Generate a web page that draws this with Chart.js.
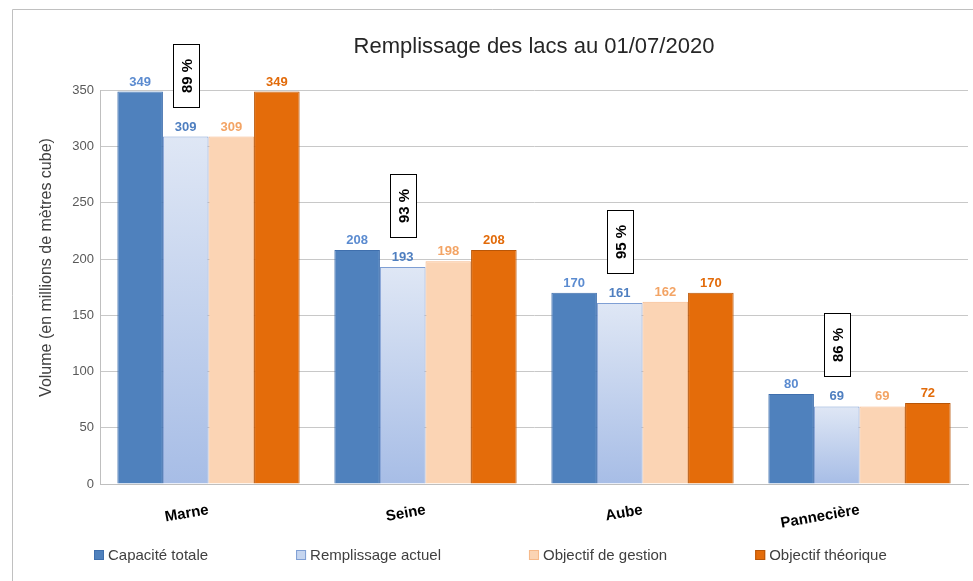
<!DOCTYPE html>
<html>
<head>
<meta charset="utf-8">
<script src="https://cdn.jsdelivr.net/npm/chart.js@4.4.0/dist/chart.umd.min.js"></script>
<style>
  html, body { margin: 0; padding: 0; background: #fff; }
  #wrap { width: 973px; height: 581px; }
</style>
</head>
<body>
<div id="wrap"><canvas id="myChart" width="973" height="581"></canvas></div>
<script>
// donnees (millions de m3)
const lakes = ['Marne', 'Seine', 'Aube', 'Pannecière'];
const capaciteTotale = [349, 208, 170, 80];
const remplissageActuel = [309, 193, 161, 69];
const objectifGestion = [309, 198, 162, 69];
const objectifTheorique = [349, 208, 170, 72];
const tauxRemplissage = ['89 %', '93 %', '95 %', '86 %'];
const yMax = 350;
const yStep = 50;
const yTitle = 'Volume (en millions de mètres cube)';

const fontFamily = "'Liberation Sans', Arial, sans-serif";
const labelColors = ['#5b8bd0', '#4f7fc0', '#f3a465', '#e26b0a'];

var ctx = document.getElementById('myChart');

// gradient vertical pour chaque barre "Remplissage actuel"
function remplissageFill(context) {
    let chart = context.chart;
    if (!chart.chartArea || context.type !== 'data') return '#c5d5ef';
    let y = chart.scales.y;
    let top = y.getPixelForValue(context.raw);
    let bottom = y.getPixelForValue(0);
    let g = chart.ctx.createLinearGradient(0, top, 0, bottom);
    g.addColorStop(0, '#dfe7f5');
    g.addColorStop(1, '#a7bde6');
    return g;
}

// cadre gris autour du graphique (capture Excel) + titre de l'axe Y
const framePlugin = {
    id: 'frame',
    beforeDraw(chart) {
        let c = chart.ctx;
        c.save();
        c.fillStyle = '#fff';
        c.fillRect(0, 0, chart.width, chart.height);
        c.strokeStyle = '#c0c0c0';
        c.lineWidth = 1;
        c.beginPath();
        c.moveTo(12.5, chart.height);
        c.lineTo(12.5, 9.5);
        c.lineTo(chart.width, 9.5);
        c.stroke();

        // titre axe Y, un peu au-dessus du milieu comme dans Excel
        let area = chart.chartArea;
        c.translate(47, area.top + (area.bottom - area.top) * 0.45);
        c.rotate(-Math.PI / 2);
        c.fillStyle = '#404040';
        c.font = '16px ' + fontFamily;
        c.textAlign = 'center';
        c.textBaseline = 'middle';
        c.fillText(yTitle, 0, 0);
        c.restore();
    }
};

// valeurs au-dessus des barres
const valueLabels = {
    id: 'valueLabels',
    afterDatasetsDraw(chart) {
        let c = chart.ctx;
        c.save();
        c.font = 'bold 13px ' + fontFamily;
        c.textAlign = 'center';
        c.textBaseline = 'bottom';
        chart.data.datasets.forEach((ds, di) => {
            let meta = chart.getDatasetMeta(di);
            c.fillStyle = labelColors[di];
            meta.data.forEach((bar, i) => {
                c.fillText(ds.data[i], bar.x, bar.y - 3);
            });
        });
        c.restore();
    }
};

// encadres verticaux avec le taux de remplissage
const ratioBoxes = {
    id: 'ratioBoxes',
    afterDatasetsDraw(chart) {
        let c = chart.ctx;
        let meta = chart.getDatasetMeta(1);
        let w = 26, h = 63;
        c.save();
        meta.data.forEach((bar, i) => {
            let bottom = bar.y - 30;
            let x0 = Math.round(bar.x - w / 2) + 0.5;
            let y0 = Math.round(bottom - h) + 0.5;
            c.fillStyle = '#fff';
            c.fillRect(x0, y0, w, h);
            c.strokeStyle = '#000';
            c.lineWidth = 1;
            c.strokeRect(x0, y0, w, h);
            c.save();
            c.translate(x0 + w / 2, y0 + h / 2);
            c.rotate(-Math.PI / 2);
            c.fillStyle = '#000';
            c.font = 'bold 15px ' + fontFamily;
            c.textAlign = 'center';
            c.textBaseline = 'middle';
            c.fillText(tauxRemplissage[i], 0, 1);
            c.restore();
        });
        c.restore();
    }
};

// legende en bas, elements espaces comme dans Excel
const bottomLegend = {
    id: 'bottomLegend',
    afterDraw(chart) {
        let c = chart.ctx;
        let gap = 88;
        let x = chart.chartArea.left - 6;
        let y = 555;
        c.save();
        c.font = '15px ' + fontFamily;
        c.textBaseline = 'middle';
        c.textAlign = 'left';
        chart.data.datasets.forEach((ds) => {
            c.fillStyle = ds.legendColor;
            c.fillRect(x, y - 5, 10, 10);
            c.strokeStyle = ds.borderColor;
            c.lineWidth = 1;
            c.strokeRect(x + 0.5, y - 4.5, 9, 9);
            c.fillStyle = '#404040';
            c.fillText(ds.label, x + 14, y + 1);
            x += 14 + c.measureText(ds.label).width + gap;
        });
        c.restore();
    }
};

var myChart = new Chart(ctx, {
    type: 'bar',
    data: {
        labels: lakes,
        datasets: [{
            label: 'Capacité totale',
            data: capaciteTotale,
            backgroundColor: '#4f81bd',
            legendColor: '#4f81bd',
            borderColor: '#3f6fad',
            borderWidth: 1
        }, {
            label: 'Remplissage actuel',
            data: remplissageActuel,
            backgroundColor: remplissageFill,
            legendColor: '#c5d5ef',
            borderColor: '#7f9fd4',
            borderWidth: 1
        }, {
            label: 'Objectif de gestion',
            data: objectifGestion,
            backgroundColor: '#fbd4b4',
            legendColor: '#fbd4b4',
            borderColor: '#f6b98a',
            borderWidth: 1
        }, {
            label: 'Objectif théorique',
            data: objectifTheorique,
            backgroundColor: '#e46c0a',
            legendColor: '#e46c0a',
            borderColor: '#b85608',
            borderWidth: 1
        }]
    },
    options: {
        responsive: false,
        animation: false,
        layout: { padding: { left: 13, right: 5, top: 0, bottom: 49 } },
        datasets: {
            bar: { categoryPercentage: 0.84, barPercentage: 1.0 }
        },
        plugins: {
            legend: { display: false },
            tooltip: { enabled: false },
            title: {
                display: true,
                fullSize: false,
                text: 'Remplissage des lacs au 01/07/2020',
                color: '#262626',
                font: { family: fontFamily, size: 22, weight: 'normal', lineHeight: 1.2 },
                padding: { top: 34, bottom: 30 }
            }
        },
        scales: {
            x: {
                grid: { display: false },
                border: { display: true, color: '#bfbfbf' },
                ticks: {
                    color: '#000',
                    font: { family: fontFamily, size: 15, weight: 'bold' },
                    minRotation: 10,
                    maxRotation: 10,
                    padding: 9
                },
                afterFit(scale) { scale.height = 48; }
            },
            y: {
                min: 0,
                max: yMax,
                ticks: {
                    stepSize: yStep,
                    color: '#595959',
                    font: { family: fontFamily, size: 13 },
                    padding: 6
                },
                grid: { color: '#c8c8c8', drawTicks: false },
                border: { display: true, color: '#bfbfbf' },
                afterFit(scale) { scale.width = 87; }
            }
        }
    },
    plugins: [framePlugin, valueLabels, ratioBoxes, bottomLegend]
});
</script>
</body>
</html>
